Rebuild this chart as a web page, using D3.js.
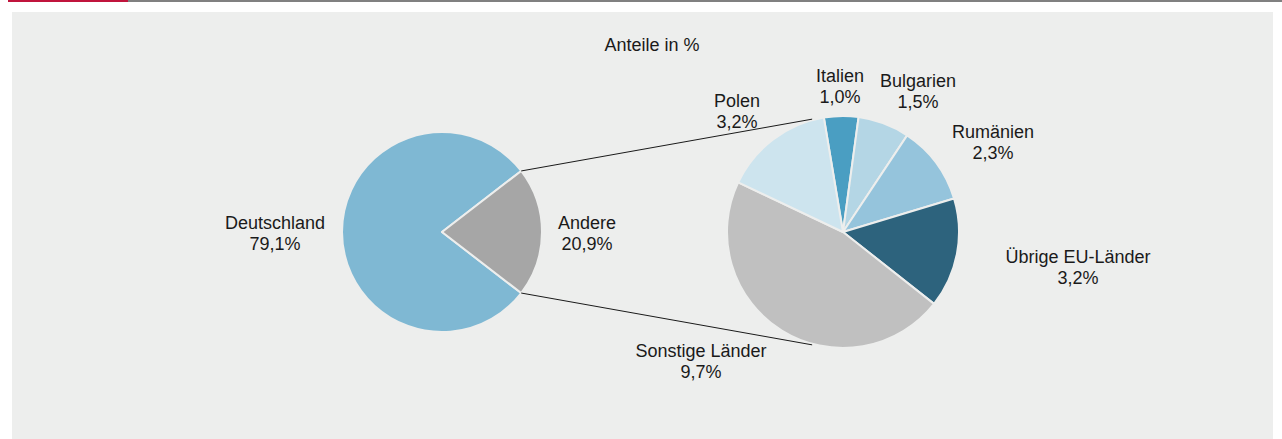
<!DOCTYPE html>
<html lang="de">
<head>
<meta charset="UTF-8">
<script src="https://d3js.org/d3.v7.min.js"></script>
<style>
  html, body { margin: 0; padding: 0; background: #ffffff; }
  body { font-family: "Liberation Sans", Arial, sans-serif; }
  svg text { fill: #1a1a1a; font-size: 18px; }
</style>
</head>
<body>
<div id="chart"></div>
<script>
// Daten: Anteile in %
const mainNames = ["Deutschland", "Andere"];
const mainValues = [79.1, 20.9];
const mainLabels = ["79,1%", "20,9%"];

const subNames = ["Italien", "Bulgarien", "Rumänien", "Übrige EU-Länder", "Sonstige Länder", "Polen"];
const subValues = [1.0, 1.5, 2.3, 3.2, 9.7, 3.2];
const subLabels = ["1,0%", "1,5%", "2,3%", "3,2%", "9,7%", "3,2%"];

const mainColors = ["#7fb8d3", "#a6a6a6"];
const subColors = ["#4a9ec2", "#b4d6e5", "#95c4dc", "#2d637d", "#c0c0c0", "#cde4ee"];

const W = 1282, H = 439;
const deg = Math.PI / 180;

const svg = d3.select("#chart").append("svg")
  .attr("width", W).attr("height", H);

// Kopfleiste und Hintergrund
svg.append("rect").attr("x", 8).attr("y", 0).attr("width", 120).attr("height", 2).attr("fill", "#c0143c");
svg.append("rect").attr("x", 128).attr("y", 0).attr("width", W - 128).attr("height", 2).attr("fill", "#808080");
svg.append("rect").attr("x", 12).attr("y", 12).attr("width", 1261).attr("height", H - 12).attr("fill", "#edeeed");

svg.append("text").attr("x", 652).attr("y", 51).attr("text-anchor", "middle").text("Anteile in %");

// Linker Kreis
const c1 = {x: 442, y: 232}, r1 = 100;
const andereSpan = mainValues[1] / d3.sum(mainValues) * 2 * Math.PI;
const pie1 = d3.pie().sort(null)
  .startAngle(Math.PI / 2 + andereSpan / 2)
  .endAngle(Math.PI / 2 + andereSpan / 2 + 2 * Math.PI);
const arc1 = d3.arc().innerRadius(0).outerRadius(r1);
const arcs1 = pie1(mainValues);

const g1 = svg.append("g").attr("transform", `translate(${c1.x},${c1.y})`);
g1.selectAll("path").data(arcs1).join("path")
  .attr("d", arc1)
  .attr("fill", (d, i) => mainColors[i])
  .attr("stroke", "#edeeed").attr("stroke-width", 2).attr("stroke-linejoin", "round");

// Rechter Kreis
const c2 = {x: 843, y: 232}, r2 = 116;
const pie2 = d3.pie().sort(null)
  .startAngle(-9.5 * deg).endAngle(-9.5 * deg + 2 * Math.PI);
const arc2 = d3.arc().innerRadius(0).outerRadius(r2);
const arcs2 = pie2(subValues);

const g2 = svg.append("g").attr("transform", `translate(${c2.x},${c2.y})`);
g2.selectAll("path").data(arcs2).join("path")
  .attr("d", arc2)
  .attr("fill", (d, i) => subColors[i])
  .attr("stroke", "#edeeed").attr("stroke-width", 2).attr("stroke-linejoin", "round");

// Verbindungslinien
const pt = (c, r, a) => [c.x + r * Math.sin(a), c.y - r * Math.cos(a)];
const andere = arcs1[1];
const links = [
  [pt(c1, r1, andere.startAngle), pt(c2, r2 + 1, -15.3 * deg)],
  [pt(c1, r1, andere.endAngle), pt(c2, r2 + 1, 195.3 * deg)]
];
svg.selectAll("line.link").data(links).join("line")
  .attr("class", "link")
  .attr("x1", d => d[0][0]).attr("y1", d => d[0][1])
  .attr("x2", d => d[1][0]).attr("y2", d => d[1][1])
  .attr("stroke", "#1a1a1a").attr("stroke-width", 1);

// Beschriftungen (Position relativ zum Kreismittelpunkt, Grundlinie der ersten Zeile)
const mainLabelAt = [[-167, -3], [145, -3]];
const subLabelAt = [[-3, -150], [75, -145], [150, -94], [235, 31], [-142, 125], [-106, -125]];

function addLabel(c, at, name, value) {
  const t = svg.append("text").attr("text-anchor", "middle")
    .attr("x", c.x + at[0]).attr("y", c.y + at[1]);
  t.append("tspan").attr("x", c.x + at[0]).text(name);
  t.append("tspan").attr("x", c.x + at[0]).attr("dy", 21).text(value);
}
mainNames.forEach((n, i) => addLabel(c1, mainLabelAt[i], n, mainLabels[i]));
subNames.forEach((n, i) => addLabel(c2, subLabelAt[i], n, subLabels[i]));
</script>
</body>
</html>
